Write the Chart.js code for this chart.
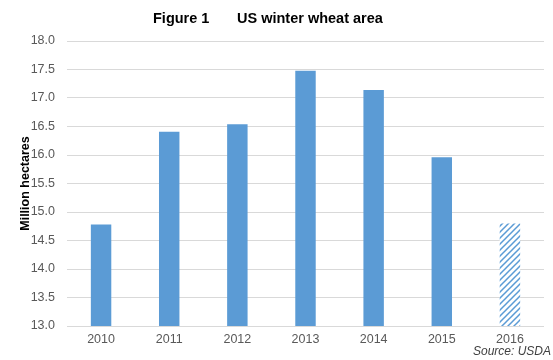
<!DOCTYPE html>
<html>
<head>
<meta charset="utf-8">
<script src="https://cdn.jsdelivr.net/npm/chart.js@4.4.0/dist/chart.umd.min.js"></script>
<style>
  html, body { margin: 0; padding: 0; background: #fff; }
  #wrap { width: 553px; height: 360px; position: relative; }
</style>
</head>
<body>
<div id="wrap"><canvas id="ChartCanvas1"></canvas></div>
<script>
const years = ['2010', '2011', '2012', '2013', '2014', '2015', '2016'];
const area = [14.78, 16.41, 16.54, 17.48, 17.14, 15.96, 14.80];
const forecast = [false, false, false, false, false, false, true];
const yTicks = [13.0, 13.5, 14.0, 14.5, 15.0, 15.5, 16.0, 16.5, 17.0, 17.5, 18.0];

const blue = '#5B9BD5';
const grey = '#595959';
const family = '"Liberation Sans", Arial, sans-serif';

Initialize();

function HatchPattern()
{
    const c = document.createElement('canvas');
    c.width = 6;
    c.height = 6;
    const g = c.getContext('2d');
    g.fillStyle = '#fff';
    g.fillRect(0, 0, 6, 6);
    g.strokeStyle = blue;
    g.lineWidth = 1.5;
    g.beginPath();
    g.moveTo(-1, 7); g.lineTo(7, -1);
    g.moveTo(-4, 4); g.lineTo(4, -4);
    g.moveTo(2, 10); g.lineTo(10, 2);
    g.stroke();
    return g.createPattern(c, 'repeat');
}

function Initialize()
{
    const ctx = document.getElementById('ChartCanvas1').getContext('2d');
    const hatch = HatchPattern();

    // title and source note drawn on top of the chart
    const notes = {
        id: 'notes',
        afterDraw(chart)
        {
            const g = chart.ctx;
            g.save();
            g.fillStyle = '#000';
            g.font = 'bold 14.5px ' + family;
            g.textBaseline = 'middle';
            g.textAlign = 'left';
            g.fillText('Figure 1', 153, 19);
            g.fillText('US winter wheat area', 237, 19);
            g.fillStyle = '#404040';
            g.font = 'italic 12px ' + family;
            g.textAlign = 'right';
            g.fillText('Source: USDA', 551, 352);
            g.restore();
        }
    };

    new Chart(ctx,
    {
        type: 'bar',
        data: {
            labels: years,
            datasets: [{
                data: area,
                backgroundColor: forecast.map(f => f ? hatch : blue),
                borderWidth: 0,
                barPercentage: 0.3,
                categoryPercentage: 1.0
            }]
        },
        options: {
            responsive: true,
            maintainAspectRatio: false,
            animation: false,
            layout: { padding: { top: 41, right: 9, bottom: 7, left: 0 } },
            plugins: {
                legend: { display: false },
                tooltip: { enabled: false }
            },
            scales: {
                x: {
                    grid: { display: false, drawTicks: false },
                    border: { display: false },
                    ticks: {
                        color: grey,
                        padding: 6,
                        font: { family: family, size: 12.5 }
                    }
                },
                y: {
                    min: yTicks[0],
                    max: yTicks[yTicks.length - 1],
                    afterBuildTicks: s => { s.ticks = yTicks.map(v => ({ value: v })); },
                    afterFit: s => { s.width = 67; },
                    grid: { color: '#d9d9d9', drawTicks: false, lineWidth: 1 },
                    border: { display: false },
                    ticks: {
                        color: grey,
                        padding: 12,
                        callback: v => Number(v).toFixed(1),
                        font: { family: family, size: 12.5 }
                    },
                    title: {
                        display: true,
                        text: 'Million hectares',
                        color: '#000',
                        padding: { top: 18, bottom: 0 },
                        font: { family: family, size: 12.5, weight: 'bold' }
                    }
                }
            }
        },
        plugins: [notes]
    });
}
</script>
</body>
</html>
